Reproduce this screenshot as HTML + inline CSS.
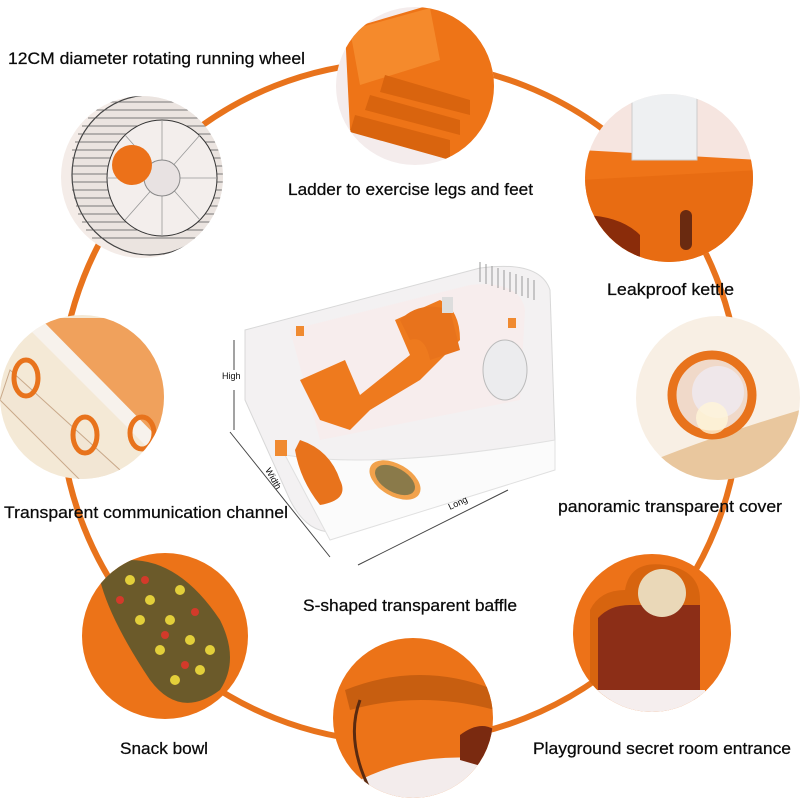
<!DOCTYPE html>
<html><head><meta charset="utf-8"><style>
html,body{margin:0;padding:0;background:#fff;}
svg{display:block}
text{font-family:"Liberation Sans",sans-serif;fill:#0a0a0a;font-size:17px;stroke:#0a0a0a;stroke-width:0.25;}
</style></head><body>
<svg width="800" height="800" viewBox="0 0 800 800" xmlns="http://www.w3.org/2000/svg">
<defs>
<clipPath id="c1"><circle cx="142" cy="177" r="81"/></clipPath>
<clipPath id="c2"><circle cx="415" cy="86" r="79"/></clipPath>
<clipPath id="c3"><circle cx="669" cy="178" r="84"/></clipPath>
<clipPath id="c4"><circle cx="82" cy="397" r="82"/></clipPath>
<clipPath id="c5"><circle cx="718" cy="398" r="82"/></clipPath>
<clipPath id="c6"><circle cx="165" cy="636" r="83"/></clipPath>
<clipPath id="c7"><circle cx="413" cy="718" r="80"/></clipPath>
<clipPath id="c8"><circle cx="652" cy="633" r="79"/></clipPath>
</defs>

<circle cx="400" cy="402" r="340" fill="none" stroke="#e8731c" stroke-width="6"/>

<!-- 1 wheel -->
<g clip-path="url(#c1)">
<rect x="55" y="90" width="180" height="180" fill="#f4ece8"/>
<ellipse cx="150" cy="175" rx="78" ry="80" fill="#ebe4e0" stroke="#444" stroke-width="1.2"/>
<g stroke="#555" stroke-width="1" opacity="0.75">
<path d="M75 142h150M72 150h156M72 158h156M72 166h156M72 174h156M72 182h156M72 190h156M74 198h152M76 206h148M78 214h144M82 222h136M86 230h128M92 238h116M78 134h144M82 126h136M88 118h124M94 110h112M102 102h96"/>
</g>
<ellipse cx="162" cy="178" rx="55" ry="58" fill="#f3eeec" stroke="#333" stroke-width="1"/>
<g stroke="#999" stroke-width="0.8"><path d="M162 120v116M107 178h110M125 135l75 85M200 135l-75 85"/></g>
<circle cx="162" cy="178" r="18" fill="#e8e2e2" stroke="#888"/>
<circle cx="132" cy="165" r="20" fill="#ec7119"/>
</g>

<!-- 2 ladder -->
<g clip-path="url(#c2)">
<rect x="330" y="0" width="170" height="170" fill="#f4ecec"/>
<path d="M345 30 L430 5 L500 40 L500 140 L450 160 L350 130 Z" fill="#ee7417"/>
<path d="M350 30 L430 8 L440 60 L360 85 Z" fill="#f58a2c"/>
<path d="M385 75 L470 100 L470 115 L380 92 Z M370 95 L460 120 L460 135 L365 110 Z M355 115 L450 140 L450 160 L350 132 Z" fill="#d9640e"/>
</g>

<!-- 3 kettle -->
<g clip-path="url(#c3)">
<rect x="580" y="90" width="180" height="180" fill="#f6e5e0"/>
<path d="M580 150 L760 160 L760 270 L580 270 Z" fill="#ef7418"/>
<path d="M580 180 L760 170 L760 270 L580 270 Z" fill="#e86c12"/>
<rect x="632" y="90" width="65" height="70" fill="#eef0f2" stroke="#ccc"/>
<path d="M580 215 Q620 215 640 235 L640 270 L580 270Z" fill="#8a2c0a"/>
<rect x="680" y="210" width="12" height="40" rx="6" fill="#6a2a10"/>
</g>

<!-- 4 channel -->
<g clip-path="url(#c4)">
<rect x="0" y="310" width="170" height="175" fill="#f4e9d6"/>
<path d="M40 318 L170 318 L170 470 Z" fill="#f0a15c"/>
<path d="M40 318 L170 450 L170 470 L30 330Z" fill="#f7f2ec"/>
<path d="M10 370 L120 470 L90 490 L0 400Z" fill="#f2e6d4" stroke="#c9a98a"/>
<ellipse cx="26" cy="378" rx="12" ry="18" fill="none" stroke="#e8731c" stroke-width="5"/>
<ellipse cx="85" cy="435" rx="12" ry="18" fill="none" stroke="#e8731c" stroke-width="5"/>
<ellipse cx="142" cy="433" rx="12" ry="16" fill="none" stroke="#e8731c" stroke-width="5"/>
</g>

<!-- 5 cover -->
<g clip-path="url(#c5)">
<rect x="630" y="310" width="180" height="180" fill="#f8efe4"/>
<path d="M630 470 Q700 440 800 410 L800 490 L630 490Z" fill="#e9c79e"/>
<circle cx="712" cy="395" r="40" fill="#f0d9c9" stroke="#e8731c" stroke-width="9"/>
<circle cx="718" cy="392" r="26" fill="#efe7ea"/>
<circle cx="712" cy="418" r="16" fill="#fff5d8" opacity="0.8"/>
</g>

<!-- 6 snack -->
<g clip-path="url(#c6)">
<rect x="80" y="550" width="175" height="175" fill="#ec7318"/>
<path d="M130 560 Q180 560 220 620 Q240 660 220 690 Q180 720 150 680 Q110 620 100 580 Q105 560 130 560Z" fill="#6b5a2a"/>
<g fill="#e3cf3a">
<circle cx="130" cy="580" r="5"/><circle cx="150" cy="600" r="5"/><circle cx="170" cy="620" r="5"/><circle cx="190" cy="640" r="5"/><circle cx="200" cy="670" r="5"/><circle cx="160" cy="650" r="5"/><circle cx="140" cy="620" r="5"/><circle cx="180" cy="590" r="5"/><circle cx="210" cy="650" r="5"/><circle cx="175" cy="680" r="5"/></g>
<g fill="#d33a2a"><circle cx="120" cy="600" r="4"/><circle cx="165" cy="635" r="4"/><circle cx="195" cy="612" r="4"/><circle cx="185" cy="665" r="4"/><circle cx="145" cy="580" r="4"/></g>
<path d="M210 560 L255 560 L255 600 Q230 590 210 560Z" fill="#f2cfc4"/>
</g>

<!-- 7 bottom -->
<g clip-path="url(#c7)">
<rect x="330" y="635" width="170" height="170" fill="#ec7318"/>
<path d="M345 690 Q420 660 495 690 L495 710 Q420 690 350 710Z" fill="#c75e10"/>
<path d="M360 780 Q420 750 495 760 L495 800 L360 800Z" fill="#f3ecec"/>
<path d="M460 760 L460 735 Q480 720 495 730 L495 770Z" fill="#7a2a10"/>
<path d="M360 700 Q345 740 370 790" fill="none" stroke="#5a2a10" stroke-width="3"/>
</g>

<!-- 8 secret room -->
<g clip-path="url(#c8)">
<rect x="570" y="550" width="170" height="170" fill="#ed7218"/>
<path d="M590 610 Q600 590 625 590 Q630 560 665 565 Q700 570 700 600 L700 700 L590 700Z" fill="#d7640f"/>
<path d="M598 618 Q610 605 630 605 L700 605 L700 690 L598 690Z" fill="#8c2e17"/>
<circle cx="662" cy="593" r="24" fill="#ead8b8"/>
<path d="M590 690 L705 690 L705 720 L590 720Z" fill="#f5eeee"/>
</g>

<!-- central cage -->
<g>
<path d="M245 330 L480 268 Q540 260 550 290 L555 440 Q555 470 520 480 L345 530 Q310 540 290 500 L245 400 Z" fill="#f3f1f2" stroke="#d8d8d8"/>
<path d="M285 455 L330 540 L555 470 L555 440 Q380 470 285 455Z" fill="#fbfbfb" stroke="#e0e0e0"/>
<path d="M290 330 L470 285 Q520 280 525 310 L520 400 L320 440 Z" fill="#f7eded"/>
<path d="M300 380 L345 360 L360 395 L410 355 L395 320 L440 300 Q460 310 460 340 L420 380 L370 410 L350 430 L320 420 Z" fill="#ee7a1e"/>
<path d="M400 320 Q420 300 450 310 L460 350 L430 360 Q425 335 410 340 Z" fill="#e8731c"/>
<rect x="442" y="297" width="11" height="16" fill="#ddd"/>
<path d="M300 440 Q330 450 340 480 Q350 500 320 505 Q300 480 295 450Z" fill="#e8731c"/>
<ellipse cx="395" cy="480" rx="16" ry="28" transform="rotate(-60 395 480)" fill="#f2a24c"/>
<ellipse cx="395" cy="480" rx="12" ry="22" transform="rotate(-60 395 480)" fill="#8a7a4a"/>
<ellipse cx="505" cy="370" rx="22" ry="30" fill="#ececee" stroke="#bbb"/>
<rect x="275" y="440" width="12" height="16" fill="#f08a30"/>
<rect x="296" y="326" width="8" height="10" fill="#f08a30"/>
<rect x="508" y="318" width="8" height="10" fill="#f08a30"/>
<g stroke="#999" stroke-width="1"><path d="M480 262v20M486 264v20M492 266v20M498 268v20M504 270v20M510 272v20M516 274v20M522 276v20M528 278v20M534 280v20"/></g>
<g stroke="#444" stroke-width="1"><path d="M234 340v30M234 390v40M230 432l100 125M358 565l150-75"/></g>
<text x="222" y="379" style="font-size:9px;stroke:none">High</text>
<text x="0" y="0" transform="translate(265 470) rotate(60)" style="font-size:9px;stroke:none">Width</text>
<text x="0" y="0" transform="translate(450 510) rotate(-25)" style="font-size:9px;stroke:none">Long</text>
</g>

<text x="8" y="64" textLength="297" lengthAdjust="spacingAndGlyphs">12CM diameter rotating running wheel</text>
<text x="288" y="195" textLength="245" lengthAdjust="spacingAndGlyphs">Ladder to exercise legs and feet</text>
<text x="607" y="295" textLength="127" lengthAdjust="spacingAndGlyphs">Leakproof kettle</text>
<text x="4" y="518" textLength="284" lengthAdjust="spacingAndGlyphs">Transparent communication channel</text>
<text x="558" y="512" textLength="224" lengthAdjust="spacingAndGlyphs">panoramic transparent cover</text>
<text x="303" y="611" textLength="214" lengthAdjust="spacingAndGlyphs">S-shaped transparent baffle</text>
<text x="120" y="754" textLength="88" lengthAdjust="spacingAndGlyphs">Snack bowl</text>
<text x="533" y="754" textLength="258" lengthAdjust="spacingAndGlyphs">Playground secret room entrance</text>
</svg>
</body></html>
